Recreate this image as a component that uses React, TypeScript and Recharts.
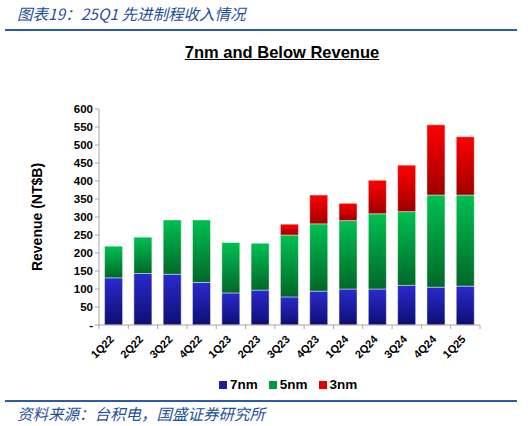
import React from "react";
import { BarChart, Bar, XAxis, YAxis } from "recharts";

const quarters = ["1Q22","2Q22","3Q22","4Q22","1Q23","2Q23","3Q23","4Q23","1Q24","2Q24","3Q24","4Q24","1Q25"];
const nm7 = [131, 143, 141, 118, 89, 97, 78, 94, 100, 100, 110, 105, 108];
const nm5 = [88, 101, 151, 174, 140, 130, 172, 187, 190, 209, 205, 256, 253];
const nm3 = [0, 0, 0, 0, 0, 0, 30, 80, 48, 93, 129, 195, 162];
const yTicks = [0, 50, 100, 150, 200, 250, 300, 350, 400, 450, 500, 550, 600];

const seriesList = [
  { key: "nm7", name: "7nm", top: "#2a2acc", bottom: "#0e0e74", swatch: "#1e1e9e" },
  { key: "nm5", name: "5nm", top: "#00c052", bottom: "#006828", swatch: "#009a40" },
  { key: "nm3", name: "3nm", top: "#ff0000", bottom: "#9e0000", swatch: "#e00000" },
];

const data = quarters.map((q, i) => ({ q, nm7: nm7[i], nm5: nm5[i], nm3: nm3[i] }));

const FONT = "'Liberation Sans', Arial, sans-serif";
const CJK = "'Noto Sans CJK SC', sans-serif";
const BLUE = "#1f4f9c";

const PLOT_LEFT = 99;
const PLOT_RIGHT = 480;
const BAND = (PLOT_RIGHT - PLOT_LEFT) / quarters.length;

const XTick = (props: any) => {
  const { x, y, payload, index } = props;
  const last = index === quarters.length - 1;
  return (
    <g>
      <line x1={x - BAND / 2} y1={y} x2={x - BAND / 2} y2={y + 4} stroke="#a6a6a6" />
      {last && <line x1={x + BAND / 2} y1={y} x2={x + BAND / 2} y2={y + 4} stroke="#a6a6a6" />}
      <text
        x={x + 1}
        y={y + 15}
        textAnchor="end"
        transform={`rotate(-45, ${x + 1}, ${y + 15})`}
        fontFamily={FONT}
        fontWeight="bold"
        fontSize={11}
        fill="#000"
      >
        {payload.value}
      </text>
    </g>
  );
};

export default function App() {
  return (
    <div style={{ position: "absolute", left: 0, top: 0, width: 531, height: 426, background: "#fff", overflow: "hidden" }}>
      <div
        style={{
          position: "absolute", left: 17, top: 3, fontFamily: CJK, fontStyle: "italic",
          fontSize: 15.5, color: BLUE, whiteSpace: "nowrap", lineHeight: "20px",
        }}
      >
        图表19：25Q1 先进制程收入情况
      </div>
      <div style={{ position: "absolute", left: 5, top: 29, width: 512, height: 2, background: "#2b5ca8" }} />
      <div
        style={{
          position: "absolute", left: 0, width: 564, top: 42, textAlign: "center",
          fontFamily: FONT, fontWeight: "bold", fontSize: 16.5, color: "#000",
          textDecoration: "underline", lineHeight: "20px",
        }}
      >
        7nm and Below Revenue
      </div>

      <div style={{ position: "absolute", left: 0, top: 0 }}>
        <BarChart
          width={531}
          height={426}
          data={data}
          margin={{ top: 109, right: 531 - PLOT_RIGHT, left: 39, bottom: 71 }}
          barCategoryGap="19%"
        >
          <defs>
            {seriesList.map((s) => (
              <linearGradient key={s.key} id={`g-${s.key}`} x1="0" y1="0" x2="0" y2="1">
                <stop offset="0%" stopColor={s.top} />
                <stop offset="100%" stopColor={s.bottom} />
              </linearGradient>
            ))}
          </defs>
          <XAxis
            dataKey="q"
            height={30}
            interval={0}
            tickLine={false}
            tickSize={0}
            tickMargin={0}
            axisLine={{ stroke: "#a6a6a6" }}
            tick={<XTick />}
          />
          <YAxis
            width={60}
            domain={[0, 600]}
            ticks={yTicks}
            interval={0}
            tickFormatter={(v: number) => (v === 0 ? "-" : String(v))}
            axisLine={{ stroke: "#a6a6a6" }}
            tickLine={{ stroke: "#a6a6a6" }}
            tickSize={4}
            tick={{ fontFamily: FONT, fontWeight: "bold", fontSize: 11.5, fill: "#000" }}
            label={{
              value: "Revenue (NT$B)",
              angle: -90,
              position: "left",
              offset: 2,
              style: { fontFamily: FONT, fontWeight: "bold", fontSize: 14, fill: "#000", textAnchor: "middle" },
            }}
          />
          {seriesList.map((s) => (
            <Bar
              key={s.key}
              dataKey={s.key}
              name={s.name}
              stackId="a"
              fill={`url(#g-${s.key})`}
              stroke="rgba(255,255,255,0.55)"
              strokeWidth={0.8}
              isAnimationActive={false}
            />
          ))}
        </BarChart>
      </div>

      <div
        style={{
          position: "absolute", left: 219, top: 376, display: "flex", alignItems: "center",
          fontFamily: FONT, fontWeight: "bold", fontSize: 13.5, color: "#000", lineHeight: "18px",
        }}
      >
        {seriesList.map((s) => (
          <div key={s.key} style={{ display: "flex", alignItems: "center", marginRight: 11 }}>
            <div style={{ width: 8, height: 8, background: s.swatch, marginRight: 3 }} />
            <span>{s.name}</span>
          </div>
        ))}
      </div>

      <div style={{ position: "absolute", left: 5, top: 400, width: 512, height: 2, background: "#2b5ca8" }} />
      <div
        style={{
          position: "absolute", left: 17, top: 403, fontFamily: CJK, fontStyle: "italic",
          fontSize: 15.5, color: BLUE, whiteSpace: "nowrap", lineHeight: "20px",
        }}
      >
        资料来源：台积电，国盛证券研究所
      </div>
    </div>
  );
}
